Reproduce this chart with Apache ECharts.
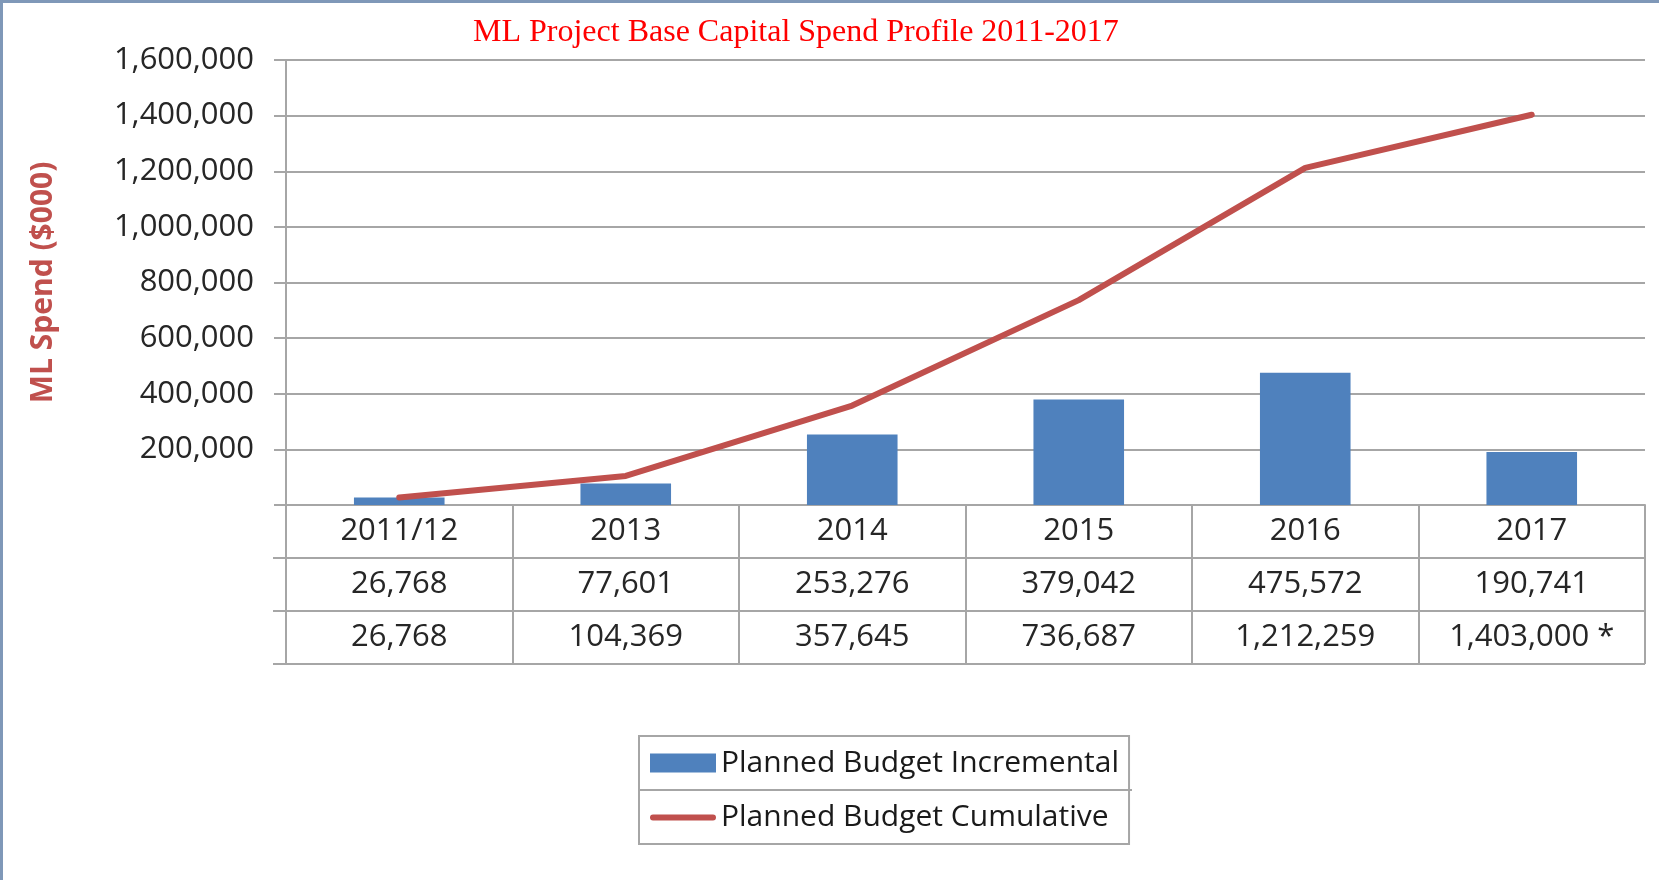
<!DOCTYPE html>
<html>
<head>
<meta charset="utf-8">
<script src="https://cdn.jsdelivr.net/npm/echarts@6/dist/echarts.min.js"></script>
<style>
    html, body {margin: 0; padding: 0; background: #fff;}
    #chartmain {width: 1659px; height: 880px;}
</style>
</head>
<body>
<div id="chartmain"></div>
<script>
//数据
var years = ['2011/12', '2013', '2014', '2015', '2016', '2017']
var incremental = [26768, 77601, 253276, 379042, 475572, 190741]
var cumulative = [26768, 104369, 357645, 736687, 1212259, 1403000]
var cumulativeNotes = ['', '', '', '', '', ' *']
var yTicks = [0, 200000, 400000, 600000, 800000, 1000000, 1200000, 1400000, 1600000]

//布局
var gridLeft = 286, gridRight = 14, gridTop = 60, axisY = 505
var rowH = 53
var gray = '#a6a6a6'
var numFont = 'Open Sans'

function fmt(v) {
    return v.toLocaleString('en-US')
}

myChartMoney = echarts.init(document.getElementById('chartmain'));

var tableLines = []
for (let i = 1; i <= 3; i++) {
    tableLines.push({
        type: 'line',
        shape: {x1: 273, y1: axisY + rowH * i, x2: 1659 - gridRight, y2: axisY + rowH * i},
        style: {stroke: gray, lineWidth: 2}
    })
}

// 图例里的红线：粗线 + 两个极小的点把外框撑成 66x19
var lineIcon = 'path://M0,0 L0.01,0 L0,0.01 Z M66,19 L65.99,19 L66,18.99 Z ' +
    'M3,7 L63,7 A3,3 0 0 1 63,13 L3,13 A3,3 0 0 1 3,7 Z'

myChartMoney.setOption({
    animation: false,
    title: {
        text: 'ML Project Base Capital Spend Profile 2011-2017',
        left: 473,
        top: 17,
        padding: 0,
        textStyle: {fontFamily: 'Liberation Serif', fontSize: 32, fontWeight: 'normal', color: '#ff0000'}
    },
    legend: {
        orient: 'vertical',
        left: 639,
        top: 736,
        padding: [10, 10, 10, 11],
        borderColor: gray,
        borderWidth: 2,
        itemWidth: 66,
        itemHeight: 19,
        itemGap: 20,
        textStyle: {fontFamily: numFont, fontSize: 30, color: '#1a1a1a', lineHeight: 34},
        data: [
            {name: 'Planned Budget Incremental', icon: 'rect'},
            {name: 'Planned Budget Cumulative', icon: lineIcon, itemStyle: {color: '#c0504d'}}
        ]
    },
    grid: {left: gridLeft, right: gridRight, top: gridTop, bottom: 880 - axisY, containLabel: false},
    xAxis: {
        type: 'category',
        data: years,
        boundaryGap: true,
        axisLine: {show: true, lineStyle: {color: gray, width: 2}},
        axisTick: {show: true, interval: 0, length: rowH * 3, lineStyle: {color: gray, width: 2}},
        axisLabel: {
            interval: 0,
            margin: 0,
            formatter: function (value, idx) {
                return value + '\n' + fmt(incremental[idx]) + '\n' + fmt(cumulative[idx]) + cumulativeNotes[idx]
            },
            fontFamily: numFont,
            fontSize: 31,
            color: '#262626',
            lineHeight: rowH,
            verticalAlign: 'top'
        }
    },
    yAxis: {
        type: 'value',
        min: yTicks[0],
        max: yTicks[yTicks.length - 1],
        interval: yTicks[1] - yTicks[0],
        name: 'ML Spend ($000)',
        nameLocation: 'middle',
        nameRotate: 90,
        nameGap: 228,
        nameTextStyle: {color: '#c0504d', fontWeight: 'bold', fontSize: 30, fontFamily: numFont},
        axisLine: {show: true, lineStyle: {color: gray, width: 2}},
        axisTick: {show: true, length: 12, lineStyle: {color: gray, width: 2}},
        splitLine: {lineStyle: {color: gray, width: 2}},
        axisLabel: {
            margin: 32,
            fontFamily: numFont,
            fontSize: 31,
            color: '#262626',
            formatter: function (v) {
                return v === 0 ? '' : fmt(v)
            }
        }
    },
    graphic: tableLines.concat([
        {type: 'line', shape: {x1: 639, y1: 790, x2: 1132, y2: 790}, style: {stroke: gray, lineWidth: 2}},
        {type: 'rect', shape: {x: 0, y: 0, width: 1659, height: 3}, style: {fill: '#7f98b8'}},
        {type: 'rect', shape: {x: 0, y: 0, width: 3, height: 880}, style: {fill: '#7f98b8'}}
    ]),
    series: [{
        name: 'Planned Budget Incremental',
        type: 'bar',
        data: incremental,
        barWidth: '40%',
        itemStyle: {color: '#4f81bd'}
    }, {
        name: 'Planned Budget Cumulative',
        type: 'line',
        data: cumulative,
        symbol: 'none',
        z: 5,
        lineStyle: {color: '#c0504d', width: 6, cap: 'round', join: 'round'},
        itemStyle: {color: '#c0504d'}
    }]
});
</script>
</body>
</html>
